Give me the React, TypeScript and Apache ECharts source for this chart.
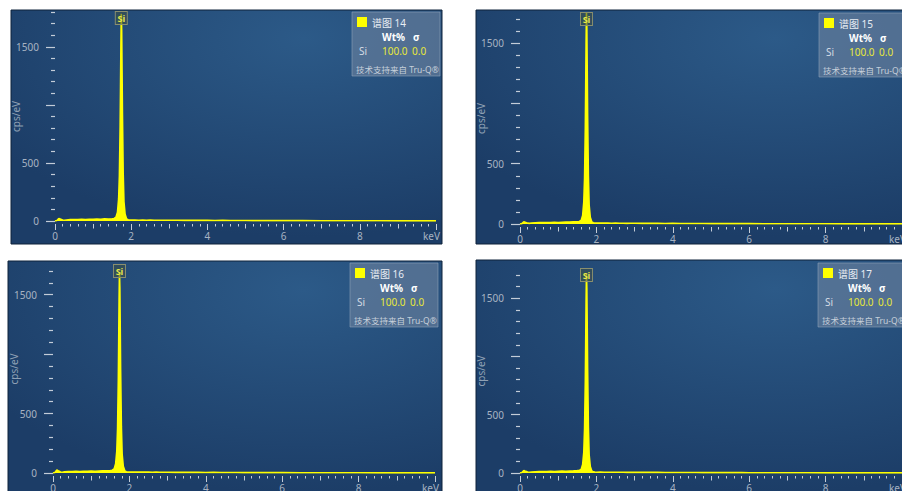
import React, { useEffect, useRef } from 'react';
import * as echarts from 'echarts';

// ---- data ----
const energyKeV = [
  0, 0.05, 0.1, 0.15, 0.2, 0.25, 0.3, 0.4, 0.5, 0.6,
  0.7, 0.8, 0.9, 1.0, 1.1, 1.2, 1.3, 1.4, 1.5, 1.55,
  1.6, 1.64, 1.67, 1.69, 1.71, 1.72, 1.73, 1.74, 1.75, 1.76,
  1.77, 1.79, 1.81, 1.84, 1.88, 1.92, 1.96, 2.0, 2.1, 2.2,
  2.3, 2.4, 2.5, 2.6, 2.7, 2.8, 2.9, 3.0, 3.2, 3.4,
  3.6, 3.8, 4.0, 4.2, 4.4, 4.6, 4.8, 5.0, 5.2, 5.4,
  5.6, 5.8, 6.0, 6.5, 7.0, 7.5, 8.0, 8.5, 9.0, 9.5,
  10.0,
];

const counts14 = [
  0, 4, 22, 15, 8, 6, 9, 12, 13, 12,
  14, 13, 15, 14, 16, 15, 18, 17, 20, 22,
  32, 75, 190, 390, 820, 1160, 1520, 1785, 1640, 1290,
  930, 410, 165, 58, 18, 11, 9, 8, 9, 7,
  8, 7, 8, 6, 7, 6, 7, 6, 6, 5,
  6, 5, 5, 4, 5, 4, 4, 4, 3, 4,
  3, 3, 3, 3, 2, 2, 2, 2, 1, 1,
  1,
];
const counts15 = [
  0, 3, 19, 13, 7, 5, 8, 10, 11, 12,
  12, 13, 14, 13, 15, 16, 16, 18, 19, 21,
  30, 70, 185, 380, 800, 1140, 1490, 1760, 1620, 1270,
  910, 400, 160, 55, 17, 10, 8, 7, 8, 7,
  7, 6, 7, 6, 6, 5, 6, 6, 5, 5,
  5, 4, 5, 4, 4, 4, 4, 3, 4, 3,
  3, 3, 3, 2, 2, 2, 2, 1, 1, 1,
  1,
];
const counts16 = [
  0, 5, 26, 16, 9, 6, 10, 13, 12, 14,
  13, 15, 14, 16, 15, 17, 18, 19, 21, 23,
  34, 78, 185, 375, 780, 1110, 1450, 1690, 1560, 1230,
  880, 390, 160, 56, 18, 11, 9, 8, 8, 7,
  8, 7, 7, 6, 7, 6, 6, 6, 5, 5,
  5, 5, 4, 5, 4, 4, 4, 3, 3, 4,
  3, 3, 3, 2, 2, 2, 2, 1, 1, 1,
  1,
];
const counts17 = [
  0, 4, 21, 14, 8, 6, 9, 11, 12, 13,
  12, 14, 13, 15, 16, 15, 17, 18, 20, 22,
  31, 72, 180, 380, 790, 1120, 1470, 1710, 1580, 1250,
  900, 395, 158, 55, 17, 10, 8, 7, 8, 7,
  7, 6, 7, 6, 6, 5, 6, 5, 5, 5,
  5, 4, 4, 4, 4, 4, 3, 3, 4, 3,
  3, 3, 2, 2, 2, 2, 1, 1, 1, 1,
  1,
];

const spectrumNames = ['谱图 14', '谱图 15', '谱图 16', '谱图 17'];
const elementName = 'Si';
const wtPercent = ['100.0', '100.0', '100.0', '100.0'];
const sigmaValues = ['0.0', '0.0', '0.0', '0.0'];
const peakEnergy = 1.74;
const creditText = '技术支持来自 Tru-Q®';

const yMajorTicks = [0, 500, 1000, 1500];
const yLabelValues = [0, 500, 1500];
const yMinorTicks = [100, 200, 300, 400, 600, 700, 800, 900, 1100, 1200, 1300, 1400, 1600, 1700, 1800];
const yAxisMax = [1800, 1750, 1750, 1750];
const xAxisMax = 10;

const panelCounts = [counts14, counts15, counts16, counts17];

// ---- layout (pixels) ----
const panelLayouts = [
  { x: 11, y: 10, w: 431, h: 234, left: 55, top: 12, width: 381, height: 209, lx: 352, ly: 12 },
  { x: 476, y: 10, w: 440, h: 234, left: 520, top: 13, width: 382, height: 211, lx: 819, ly: 13 },
  { x: 8, y: 261, w: 434, h: 240, left: 53, top: 265, width: 382, height: 208, lx: 350, ly: 263 },
  { x: 476, y: 260, w: 440, h: 240, left: 520, top: 269, width: 382, height: 204, lx: 818, ly: 263 },
];

const FONT = "'Noto Sans', 'Noto Sans CJK SC', sans-serif";
const TICK = '#c3ccd8';
const LABEL = '#a7b3c2';
const YELLOW = '#ffff00';

export default function App() {
  const ref = useRef<HTMLDivElement>(null);

  useEffect(() => {
    const chart = echarts.init(ref.current!, null, { renderer: 'svg' });
    const grids: any[] = [];
    const xAxes: any[] = [];
    const yAxes: any[] = [];
    const series: any[] = [];
    const graphics: any[] = [];

    panelLayouts.forEach((p, i) => {
      const yMax = yAxisMax[i];
      grids.push({
        left: p.left, top: p.top, width: p.width, height: p.height,
        containLabel: false, outerBoundsMode: 'none',
      });

      const xBase = {
        type: 'value', gridIndex: i, min: 0, max: xAxisMax, position: 'bottom', offset: 3,
        axisLine: { show: false, onZero: false }, splitLine: { show: false },
      };
      xAxes.push({
        ...xBase, interval: 2,
        axisTick: { show: true, length: 6, lineStyle: { color: TICK, width: 1 } },
        axisLabel: {
          color: LABEL, fontSize: 10, margin: 7, fontFamily: FONT,
          formatter: (v: number) => (v < xAxisMax ? String(v) : ''),
        },
        name: 'keV', nameLocation: 'end', nameGap: 4, nameMoveOverlap: false,
        nameTextStyle: {
          color: LABEL, fontSize: 10, fontFamily: FONT, align: 'right', verticalAlign: 'top',
          padding: [7, 0, 0, 0],
        },
      });
      xAxes.push({
        ...xBase, interval: 1,
        axisTick: { show: true, length: 4.5, lineStyle: { color: TICK, width: 1 } },
        axisLabel: { show: false },
      });
      xAxes.push({
        ...xBase, interval: 0.2,
        axisTick: { show: true, length: 2.5, lineStyle: { color: TICK, width: 1 } },
        axisLabel: { show: false },
      });

      const yBase = {
        type: 'value', gridIndex: i, min: 0, max: yMax, position: 'left', offset: 5,
        axisLine: { show: false }, splitLine: { show: false },
      };
      yAxes.push({
        ...yBase,
        axisTick: { show: true, length: 9, customValues: yMajorTicks, lineStyle: { color: TICK, width: 1.2 } },
        axisLabel: {
          color: LABEL, fontSize: 10, margin: 11, fontFamily: FONT, customValues: yLabelValues,
          formatter: (v: number) => String(v),
        },
        name: 'cps/eV', nameLocation: 'middle', nameGap: 29, nameMoveOverlap: false,
        nameTextStyle: { color: '#8fa0b4', fontSize: 10, fontFamily: FONT },
      });
      yAxes.push({
        ...yBase,
        axisTick: {
          show: true, length: 4,
          customValues: yMinorTicks.filter((v) => v <= yMax),
          lineStyle: { color: TICK, width: 1.2 },
        },
        axisLabel: { show: false },
      });

      series.push({
        type: 'line',
        xAxisIndex: i * 3,
        yAxisIndex: i * 2,
        data: energyKeV.map((e, k) => [e, panelCounts[i][k]]),
        showSymbol: false,
        symbol: 'none',
        lineStyle: { color: YELLOW, width: 1.6 },
        areaStyle: { color: YELLOW, opacity: 1 },
        itemStyle: { color: YELLOW },
        markPoint: {
          symbol: 'rect',
          symbolSize: [12, 13],
          symbolOffset: [0, 6],
          silent: true,
          itemStyle: { color: 'rgba(60,80,70,0.55)', borderColor: '#8a8f6e', borderWidth: 1 },
          label: {
            show: true, position: 'inside', formatter: elementName,
            color: '#e6e84a', fontSize: 9, fontWeight: 'bold', fontFamily: FONT,
          },
          data: [{ coord: [peakEnergy, yMax] }],
        },
      });

      graphics.push({
        type: 'rect',
        z: -10,
        silent: true,
        shape: { x: p.x, y: p.y, width: p.w, height: p.h },
        style: {
          fill: {
            type: 'radial', x: 0.68, y: 0.12, r: 0.85,
            colorStops: [
              { offset: 0, color: '#2c5a88' },
              { offset: 1, color: '#1c3d67' },
            ],
          },
          stroke: '#0f223b',
          lineWidth: 1,
        },
      });

      const txt = (text: string, x: number, y: number, fill: string, size = 10, weight = 'normal') => ({
        type: 'text', x, y,
        style: { text, fill, fontSize: size, fontWeight: weight, fontFamily: FONT, verticalAlign: 'middle' },
      });

      graphics.push({
        type: 'group',
        x: p.lx,
        y: p.ly,
        z: 100,
        silent: true,
        children: [
          {
            type: 'rect',
            shape: { x: 0, y: 0, width: 88, height: 64 },
            style: { fill: 'rgba(110,132,160,0.6)', stroke: 'rgba(140,160,185,0.6)', lineWidth: 1 },
          },
          {
            type: 'rect',
            shape: { x: 5, y: 5, width: 10, height: 10 },
            style: { fill: YELLOW },
          },
          txt(spectrumNames[i], 20, 11, '#e8edf3', 10),
          txt('Wt%', 30, 25, '#ffffff', 10, 'bold'),
          txt('σ', 61, 25, '#ffffff', 10, 'bold'),
          txt(elementName, 7, 39, '#d5dce5', 10),
          txt(wtPercent[i], 30, 39, '#e8e83a', 10),
          txt(sigmaValues[i], 60, 39, '#e8e83a', 10),
          txt(creditText, 4, 57, '#c6cfda', 8.5),
        ],
      });
    });

    chart.setOption({
      animation: false,
      textStyle: { fontFamily: FONT },
      grid: grids,
      xAxis: xAxes,
      yAxis: yAxes,
      series,
      graphic: graphics,
    });

    return () => chart.dispose();
  }, []);

  return (
    <div
      ref={ref}
      style={{ position: 'absolute', left: 0, top: 0, width: 902, height: 491 }}
    />
  );
}
